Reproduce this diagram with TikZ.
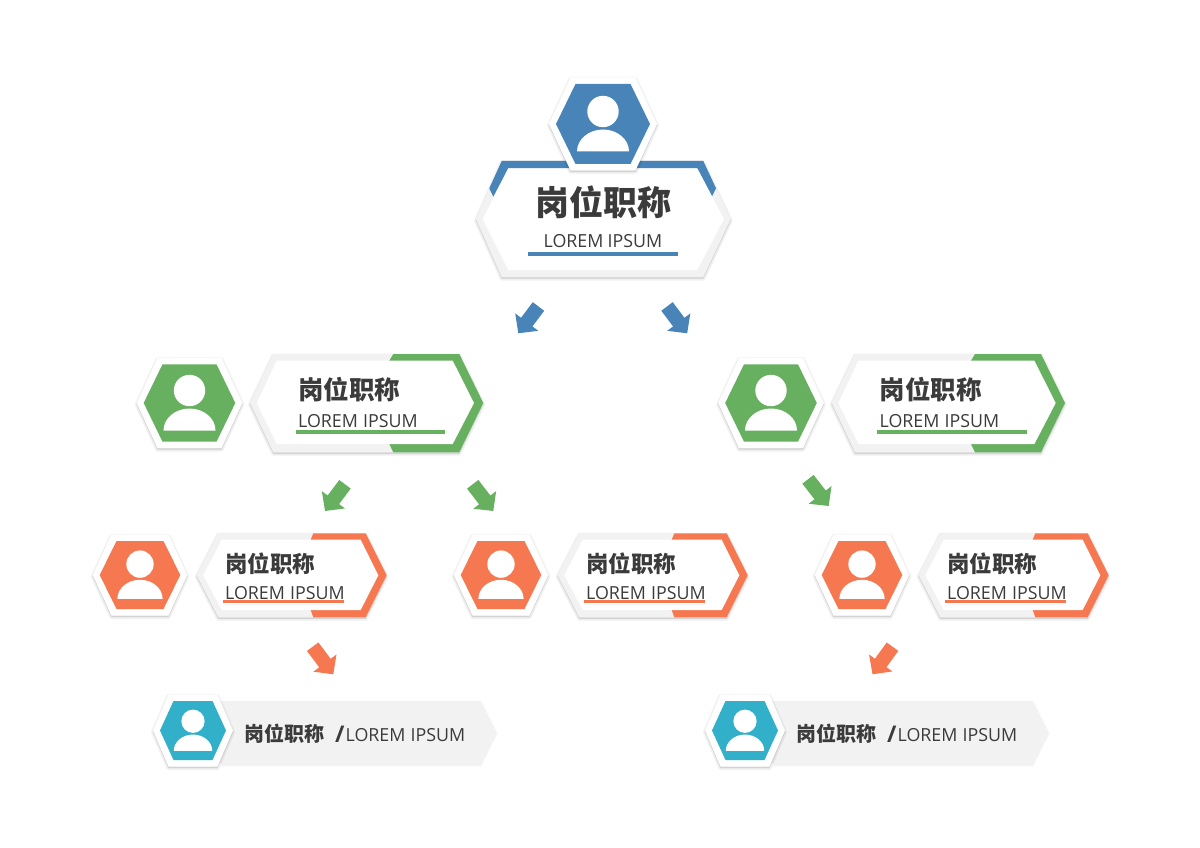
\documentclass[tikz,border=0pt]{standalone}
\usepackage{fontspec}
\usetikzlibrary{arrows.meta}
\newfontfamily\cjkf{Noto Sans CJK SC}
\newfontfamily\latf[FakeStretch=.99]{Open Sans}
\definecolor{cblue}{HTML}{4884B8}
\definecolor{cgreen}{HTML}{66B060}
\definecolor{corange}{HTML}{F67851}
\definecolor{cteal}{HTML}{32AFC9}
\definecolor{cgrey}{HTML}{F2F2F2}
\definecolor{ctext}{HTML}{3B3B3B}
\tikzset{
  softshadow/.style={draw=black,fill=black,draw opacity=.03,fill opacity=.03,line join=round},
  blockarr/.style={line width=14.3pt,-{Triangle[length=14pt,width=28pt]}},
  title/.style={inner sep=0pt,anchor=west,text=ctext},
  sub/.style={inner sep=0pt,anchor=west,text=ctext},
  rule/.style={line width=#1,line cap=butt},
}
\newcommand\shad[1]{%
  \path[softshadow,line width=4.5pt,yshift=-1.5pt] #1;
  \path[softshadow,line width=3pt,yshift=-1.5pt] #1;
  \path[softshadow,line width=1.2pt,yshift=-1.2pt] #1;
}
% name, cx, cy, half width, half height, half top edge, icon scale, colour
\newcommand\hexicon[8]{%
  \begin{scope}[shift={(#2,#3)}]
    \shad{(-#4-7,0) -- (-#6-5,-#5-6.5) -- (#6+5,-#5-6.5) -- (#4+7,0) -- (#6+5,#5+6.5) -- (-#6-5,#5+6.5) -- cycle}
    \fill[white] (-#4-7,0) -- (-#6-5,-#5-6.5) -- (#6+5,-#5-6.5) -- (#4+7,0) -- (#6+5,#5+6.5) -- (-#6-5,#5+6.5) -- cycle;
    \fill[#8] (-#4,0) -- (-#6,-#5) -- (#6,-#5) -- (#4,0) -- (#6,#5) -- (-#6,#5) -- cycle;
    \node[circle,fill=white,inner sep=0pt,minimum size={2*15.7pt*#7}] (#1) at (0,-12.5*#7) {};
    \fill[white] (-26*#7,27.5*#7) .. controls (-26*#7,15.4*#7) and (-14.4*#7,5.5*#7) .. (0,5.5*#7)
      .. controls (14.4*#7,5.5*#7) and (26*#7,15.4*#7) .. (26*#7,27.5*#7) -- cycle;
  \end{scope}}
\newcommand\cardtwo[1]{%
  \begin{scope}[xshift=#1pt]
    \shad{(250,403) -- (273.3,354) -- (459.3,354) -- (483.3,403) -- (459.3,452.3) -- (273.3,452.3) -- cycle}
    \fill[cgrey] (250,403) -- (273.3,354) -- (459.3,354) -- (483.3,403) -- (459.3,452.3) -- (273.3,452.3) -- cycle;
    \fill[cgreen] (393.3,354) -- (459.3,354) -- (483.3,403) -- (459.3,452.3) -- (393.3,452.3) -- (389.3,444) -- (389.3,360.7) -- cycle;
    \fill[white] (256.7,403) -- (276.7,360.7) -- (452.7,360.7) -- (474,403) -- (452.7,444) -- (276.7,444) -- cycle;
  \end{scope}}
\newcommand\cardthree[1]{%
  \begin{scope}[xshift=#1pt]
    \shad{(196.7,575.3) -- (218.3,533.3) -- (365.7,533.3) -- (386.7,575.3) -- (365.7,617.3) -- (218.3,617.3) -- cycle}
    \fill[cgrey] (196.7,575.3) -- (218.3,533.3) -- (365.7,533.3) -- (386.7,575.3) -- (365.7,617.3) -- (218.3,617.3) -- cycle;
    \fill[corange] (313.3,533.3) -- (365.7,533.3) -- (386.7,575.3) -- (365.7,617.3) -- (313.3,617.3) -- (310.7,610) -- (310.7,539.7) -- cycle;
    \fill[white] (203.3,575.3) -- (221.7,539.7) -- (360.7,539.7) -- (378.3,575.3) -- (360.7,610) -- (221.7,610) -- cycle;
  \end{scope}}
\newcommand\cardfour[1]{%
  \begin{scope}[xshift=#1pt]
    \fill[cgrey] (205,701) -- (481,701) -- (497.3,733.5) -- (481,766) -- (222,766) -- (205,733.5) -- cycle;
  \end{scope}}
\newcommand\ttl[2]{{\fontsize{#1}{#1}\selectfont\cjkf\bfseries #2}}
\newcommand\slashmark{{\fontsize{23}{23}\selectfont\latf\bfseries /}}
\newcommand\lorem[2]{{\fontsize{#1}{#1}\selectfont\latf\hbox to #2pt{LOREM\hfil IPSUM}}}
\begin{document}
\begin{tikzpicture}[x=1pt,y=-1pt]
\useasboundingbox (0,0) rectangle (1200,848);
\fill[white] (0,0) rectangle (1200,848);

% top card
\shad{(476,219) -- (501.7,161) -- (703.3,161) -- (730.7,219) -- (703.3,277) -- (501.7,277) -- cycle}
\fill[cgrey] (476,219) -- (501.7,161) -- (703.3,161) -- (730.7,219) -- (703.3,277) -- (501.7,277) -- cycle;
\fill[cblue] (489.3,188.3) -- (501.7,161) -- (703.3,161) -- (716,188.3) -- (712,196.5) -- (697,168.3) -- (508.3,168.3) -- (493.3,196.7) -- cycle;
\fill[white] (482.7,219) -- (508.3,168.3) -- (697.3,168.3) -- (724,219) -- (697.3,270) -- (508.3,270) -- cycle;
\hexicon{i0}{603}{124}{47}{40}{27.5}{1}{cblue}
\node[title] (t0) at (535,202) {\ttl{34}{岗位职称}};
\node[sub] (s0) at (543.5,241.5) {\lorem{18}{118.5}};
\draw[rule=4pt,cblue] (528.3,253.7) -- (677.7,253.7);

% level two
\cardtwo{0}\cardtwo{581.7}
\hexicon{i1}{189.5}{403}{45.8}{38.7}{27}{1}{cgreen}
\hexicon{i2}{771}{403}{45.8}{38.7}{27}{1}{cgreen}
\node[title] (t1) at (298,390) {\ttl{25.5}{岗位职称}};
\node[title] (t2) at (879.5,390) {\ttl{25.5}{岗位职称}};
\node[sub] (s1) at (298,421) {\lorem{18}{119.5}};
\node[sub] (s2) at (879.5,421) {\lorem{18}{119.5}};
\draw[rule=4pt,cgreen] (295.7,432.3) -- (445,432.3);
\draw[rule=4pt,cgreen] (877.4,432.3) -- (1026.7,432.3);

% level three
\cardthree{0}\cardthree{361}\cardthree{722}
\hexicon{i3}{140}{575}{40.3}{34}{23.5}{.87}{corange}
\hexicon{i4}{501}{575}{40.3}{34}{23.5}{.87}{corange}
\hexicon{i5}{862}{575}{40.3}{34}{23.5}{.87}{corange}
\node[title] (t3) at (225,563.3) {\ttl{22.5}{岗位职称}};
\node[title] (t4) at (586,563.3) {\ttl{22.5}{岗位职称}};
\node[title] (t5) at (947,563.3) {\ttl{22.5}{岗位职称}};
\node[sub] (s3) at (225,593) {\lorem{18}{119.5}};
\node[sub] (s4) at (586,593) {\lorem{18}{119.5}};
\node[sub] (s5) at (947,593) {\lorem{18}{119.5}};
\draw[rule=3.5pt,corange] (223.3,601.7) -- (344,601.7);
\draw[rule=3.5pt,corange] (584.3,601.7) -- (705,601.7);
\draw[rule=3.5pt,corange] (945.3,601.7) -- (1066,601.7);

% level four
\cardfour{0}\cardfour{552}
\hexicon{i6}{193}{730.5}{33}{29.5}{19.5}{.74}{cteal}
\hexicon{i7}{745}{730.5}{33}{29.5}{19.5}{.74}{cteal}
\node[title] (t6) at (244,734) {\ttl{20}{岗位职称}};
\node[title] (t7) at (796,734) {\ttl{20}{岗位职称}};
\node[title] (sl6) at (335,734) {\slashmark};
\node[title] (sl7) at (887,734) {\slashmark};
\node[sub] (s6) at (345.5,735) {\lorem{18}{119.5}};
\node[sub] (s7) at (897.5,735) {\lorem{18}{119.5}};

% arrows
\coordinate (a1s) at (538.5,306.5); \coordinate (a1e) at (518.3,333.3);
\coordinate (a2s) at (667,306.5);   \coordinate (a2e) at (687.2,333.3);
\coordinate (a3s) at (345,484.3);   \coordinate (a3e) at (325,511);
\coordinate (a4s) at (472.7,484.3); \coordinate (a4e) at (493.3,511);
\coordinate (a5s) at (808,479.3);   \coordinate (a5e) at (828.7,506);
\coordinate (a6s) at (312.7,646.7); \coordinate (a6e) at (333.3,674.3);
\coordinate (a7s) at (892.5,646.7);   \coordinate (a7e) at (872.5,674.3);
\draw[blockarr,cblue] (a1s) -- (a1e);
\draw[blockarr,cblue] (a2s) -- (a2e);
\draw[blockarr,cgreen] (a3s) -- (a3e);
\draw[blockarr,cgreen] (a4s) -- (a4e);
\draw[blockarr,cgreen] (a5s) -- (a5e);
\draw[blockarr,corange] (a6s) -- (a6e);
\draw[blockarr,corange] (a7s) -- (a7e);
\end{tikzpicture}
\end{document}
